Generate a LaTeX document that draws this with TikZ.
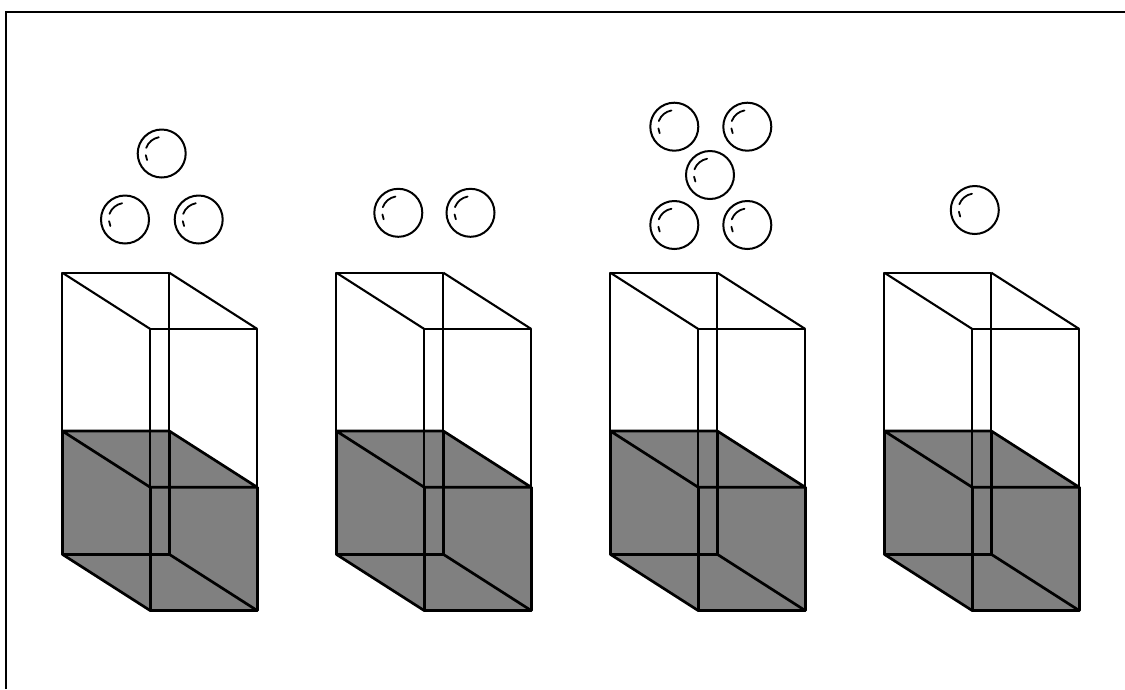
\documentclass[tikz,border=0pt]{standalone}
\begin{document}
\begin{tikzpicture}[x=1pt,y=-1pt,
  thinline/.style={line width=2.1pt,line join=round},
  thickline/.style={line width=2.7pt,line join=round},
  liquid/.style={fill=black!50},
  ringline/.style={line width=2pt},
  hlline/.style={line width=1.8pt,line cap=round},
  bubble/.pic={
    \draw[ringline] (0,0) circle[radius=24pt];
    \draw[hlline] (100:16.5pt) arc[start angle=100,end angle=160,radius=16.5pt];
    \draw[hlline] (186:16pt) arc[start angle=186,end angle=204,radius=16pt];
  },
  tank/.pic={
    % w=107, H=281.6, dx=88, dy=56.3, liquid level 158.3
    \fill[liquid] (0,158.3) -- (0,281.6) -- (88,337.9) -- (195,337.9) -- (195,214.6) -- (107,158.3) -- cycle;
    \draw[thinline] (0,0) rectangle (107,281.6);
    \draw[thinline] (88,56.3) rectangle (195,337.9);
    \draw[thinline] (0,0) -- (88,56.3) (107,0) -- (195,56.3);
    \draw[thickline] (0,158.3) -- (107,158.3) -- (195,214.6) -- (88,214.6) -- cycle;
    \draw[thickline] (0,158.3) -- (0,281.6) -- (107,281.6) -- (107,158.3);
    \draw[thickline] (88,214.6) -- (88,337.9) -- (195,337.9) -- (195,214.6);
    \draw[thickline] (0,281.6) -- (88,337.9) (107,281.6) -- (195,337.9);
  }]
\useasboundingbox (0,0) rectangle (1125,689);
\draw[line width=2pt] (6,689) -- (6,12) -- (1125,12);
\foreach \i in {0,1,2,3} {
  \pic at ({62.3+274*\i},272.7) {tank};
}
% bubbles, container 1
\pic at (161.7,153.5) {bubble};
\pic at (125,219.5) {bubble};
\pic at (198.7,219.5) {bubble};
% container 2
\pic at (398.3,212.8) {bubble};
\pic at (470.5,212.8) {bubble};
% container 3
\pic at (674.3,126.7) {bubble};
\pic at (747.3,126.7) {bubble};
\pic at (710,175) {bubble};
\pic at (674.3,225) {bubble};
\pic at (747.3,225) {bubble};
% container 4
\pic at (974.8,210) {bubble};
\end{tikzpicture}
\end{document}
